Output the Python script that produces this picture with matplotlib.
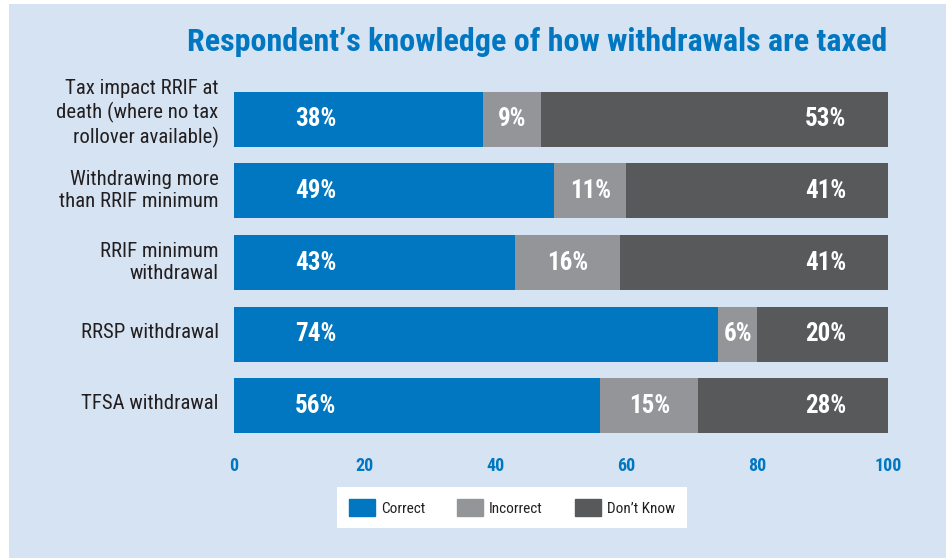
import matplotlib.pyplot as plt
from matplotlib import font_manager
from matplotlib.patches import Rectangle, Patch

# data
categories = ["Tax impact RRIF at\ndeath (where no tax\nrollover available)",
              "Withdrawing more\nthan RRIF minimum",
              "RRIF minimum\nwithdrawal",
              "RRSP withdrawal",
              "TFSA withdrawal"]
correct = [38, 49, 43, 74, 56]
incorrect = [9, 11, 16, 6, 15]
dont_know = [53, 41, 41, 20, 28]
xticks = [0, 20, 40, 60, 80, 100]

blue = '#0077c0'
gray = '#939598'
dark = '#58595b'
bg = '#d6e3f2'

# pick a narrow face if one is installed
names = {f.name for f in font_manager.fontManager.ttflist}
family = 'DejaVu Sans'
for cand in ['Liberation Sans Narrow', 'DejaVu Sans Condensed', 'Roboto Condensed',
             'Open Sans Condensed', 'Roboto']:
    if cand in names:
        family = cand
        break
plt.rcParams['font.family'] = [family, 'DejaVu Sans']

fig = plt.figure(figsize=(9.46, 5.58), dpi=100)
fig.patch.set_facecolor('white')
fig.patches.append(Rectangle((9/946, 0), 1, 1 - 4/558, transform=fig.transFigure,
                             facecolor=bg, edgecolor='none', zorder=-10))

ax = fig.add_axes([234/946, 1 - 433/558, 654/946, 341/558])
ax.set_facecolor('none')

y = list(range(len(categories)))
h = 0.765
left2 = [c + i for c, i in zip(correct, incorrect)]
# last segment fills the bar out to 100 (labels are rounded)
ax.barh(y, correct, height=h, color=blue)
ax.barh(y, incorrect, left=correct, height=h, color=gray)
ax.barh(y, [100 - l for l in left2], left=left2, height=h, color=dark)

fs = 18
for i in y:
    ax.text(12.5, i, f"{correct[i]}%", color='white', fontsize=fs, fontweight='bold',
            ha='center', va='center')
    ax.text(correct[i] + incorrect[i] / 2, i, f"{incorrect[i]}%", color='white', fontsize=fs,
            fontweight='bold', ha='center', va='center')
    ax.text(90.5, i, f"{dont_know[i]}%", color='white', fontsize=fs, fontweight='bold',
            ha='center', va='center')

ax.set_xlim(0, 100)
ax.set_ylim(len(categories) - 1 + 0.38, -0.38)
ax.set_yticks(y)
ax.set_yticklabels(categories, fontsize=16, color='#231f20', linespacing=1.22)
ax.set_xticks(xticks)
ax.set_xticklabels([str(t) for t in xticks], fontsize=13, fontweight='bold', color=blue)
ax.tick_params(length=0)
ax.tick_params(axis='y', pad=11)
ax.tick_params(axis='x', pad=17)
for s in ax.spines.values():
    s.set_visible(False)

title = fig.text(887/946, 1 - 42/558, "Respondent\u2019s knowledge of how withdrawals are taxed",
                 color=blue, fontsize=22, fontweight='bold', ha='right', va='center')

handles = [Patch(color=blue, label='Correct'), Patch(color=gray, label='Incorrect'),
           Patch(color=dark, label='Don\u2019t Know')]
leg = fig.legend(handles=handles, loc='center', bbox_to_anchor=(512/946, 1 - 507.5/558),
                 ncol=3, frameon=True, fancybox=False, edgecolor='none', facecolor='white',
                 framealpha=1, fontsize=11, handlelength=1.7, handleheight=1.3,
                 columnspacing=2.1, borderpad=0.8, handletextpad=0.4)
for t in leg.get_texts():
    t.set_color('#231f20')

# fit title and labels to the widths seen in the reference
r = fig.canvas.get_renderer()
w = title.get_window_extent(r).width
title.set_fontsize(22 * 697 / w)
lab = ax.get_yticklabels()[0]
w = lab.get_window_extent(r).width
for t in ax.get_yticklabels():
    t.set_fontsize(16 * 162 / w)

# category labels sit a little above their bars
for k, t in enumerate(ax.get_yticklabels()):
    t.set_transform(t.get_transform() + plt.matplotlib.transforms.ScaledTranslation(
        0, (10 if k == 0 else 4) / 100, fig.dpi_scale_trans))

fig.savefig('out.png', dpi=100, facecolor=fig.get_facecolor())
